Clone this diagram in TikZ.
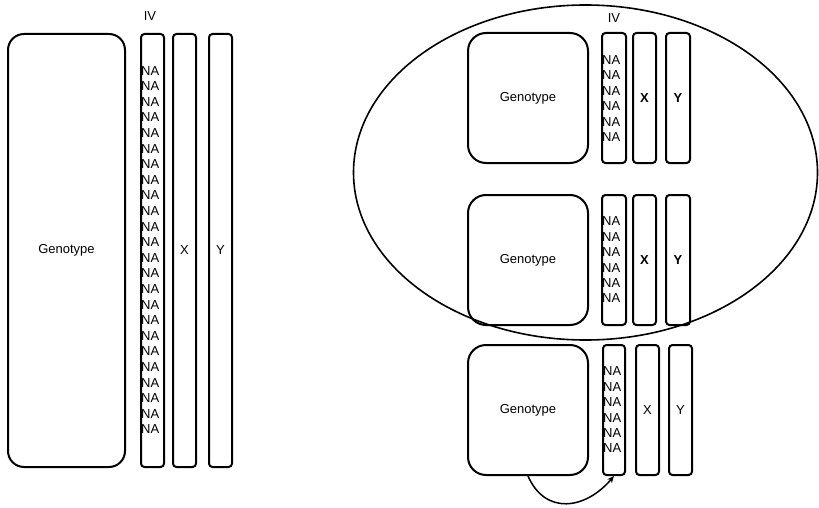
\documentclass[tikz,border=0pt]{standalone}
\usepackage{fontspec}
\setmainfont{Liberation Sans}
\usetikzlibrary{arrows.meta}
\tikzset{
  gbox/.style={draw, line width=2pt, rounded corners=16pt, minimum width=117pt, inner sep=0pt},
  col/.style={draw, line width=2pt, rounded corners=3.5pt, minimum width=23pt, inner sep=0pt},
  txt/.style={font=\fontsize{13}{15.4}\selectfont, inner sep=0pt},
  nast/.style={font=\fontsize{13}{15.4}\selectfont, inner sep=0pt, align=left, anchor=west},
  oval/.style={draw, line width=1.6pt},
}
\begin{document}
\begin{tikzpicture}[x=1pt, y=-1pt]
\useasboundingbox (0,0) rectangle (819,508);
% ---------- left ----------
\node[gbox, minimum height=433pt] (g0) at (66.5,250.5) {};
\node[txt] (g0t) at (g0.center) {Genotype};
\node[col, minimum height=433pt] (iv0) at (152.5,250.5) {};
\node[col, minimum height=433pt] (x0) at (184.5,250.5) {};
\node[col, minimum height=433pt] (y0) at (220.5,250.5) {};
\node[txt] (iv0l) at (150,16) {IV};
\node[txt] (x0l) at (x0.center) {X};
\node[txt] (y0l) at (y0.center) {Y};
\node[nast, font=\fontsize{13}{15.6}\selectfont] (na0) at (141,250) {NA\\NA\\NA\\NA\\NA\\NA\\NA\\NA\\NA\\NA\\NA\\NA\\NA\\NA\\NA\\NA\\NA\\NA\\NA\\NA\\NA\\NA\\NA\\NA};
% ---------- ellipse ----------
\draw[oval] (585.5,172.5) ellipse [x radius=232, y radius=167.5];
% ---------- row 1 ----------
\node[gbox, minimum height=130pt, minimum width=120pt, rounded corners=18pt] (g1) at (528,98) {};
\node[txt] (g1t) at (g1.center) {Genotype};
\node[col, minimum height=130pt, minimum width=24pt] (iv1) at (614,98) {};
\node[col, minimum height=130pt] (x1) at (644.5,98) {};
\node[col, minimum height=130pt, minimum width=24pt] (y1) at (678,98) {};
\node[txt] (iv1l) at (614,18) {IV};
\node[txt, font=\fontsize{13}{15}\selectfont\bfseries] (x1l) at (x1.center) {X};
\node[txt, font=\fontsize{13}{15}\selectfont\bfseries] (y1l) at (y1.center) {Y};
\node[nast] (na1) at (602,98.5) {NA\\NA\\NA\\NA\\NA\\NA};
% ---------- row 2 ----------
\node[gbox, minimum height=130pt, minimum width=120pt, rounded corners=18pt] (g2) at (528,260) {};
\node[txt] (g2t) at (g2.center) {Genotype};
\node[col, minimum height=130pt, minimum width=24pt] (iv2) at (614,260) {};
\node[col, minimum height=130pt] (x2) at (644.5,260) {};
\node[col, minimum height=130pt, minimum width=24pt] (y2) at (678,260) {};
\node[txt, font=\fontsize{13}{15}\selectfont\bfseries] (x2l) at (x2.center) {X};
\node[txt, font=\fontsize{13}{15}\selectfont\bfseries] (y2l) at (y2.center) {Y};
\node[nast] (na2) at (602,260) {NA\\NA\\NA\\NA\\NA\\NA};
% ---------- row 3 ----------
\node[gbox, minimum height=130pt, minimum width=120pt, rounded corners=18pt] (g3) at (528,410) {};
\node[txt] (g3t) at (g3.center) {Genotype};
\node[col, minimum height=130pt, minimum width=22pt] (iv3) at (614,410) {};
\node[col, minimum height=130pt] (x3) at (647.5,410) {};
\node[col, minimum height=130pt] (y3) at (680.5,410) {};
\node[txt] (x3l) at (x3.center) {X};
\node[txt] (y3l) at (y3.center) {Y};
\node[nast] (na3) at (603,410) {NA\\NA\\NA\\NA\\NA\\NA};
% ---------- arrow ----------
\draw[line width=1.5pt, -{Stealth[length=7pt, width=6pt]}] (g3.south) .. controls (545,515) and (585,510) .. (iv3.south);
\end{tikzpicture}
\end{document}
